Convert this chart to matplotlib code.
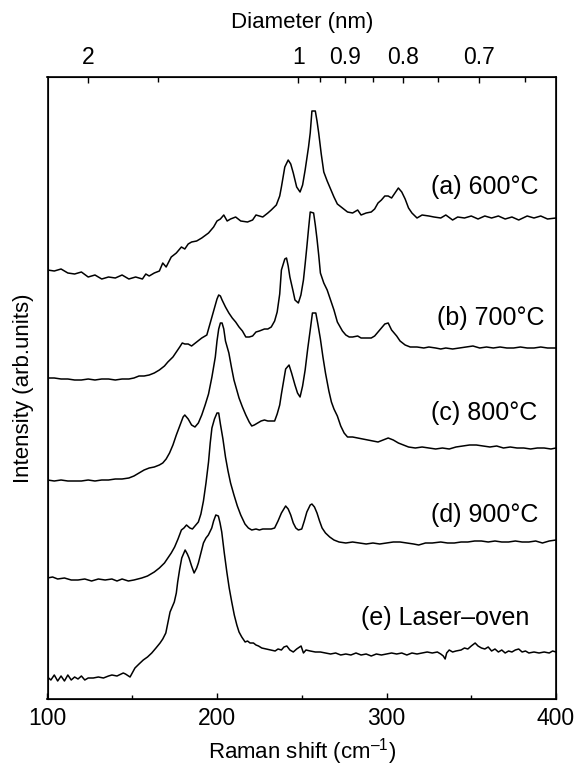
import matplotlib
matplotlib.use("Agg")
import matplotlib.pyplot as plt
import numpy as np

plt.rcParams['font.family'] = ['Liberation Sans', 'DejaVu Sans']
plt.rcParams['mathtext.fontset'] = 'custom'
plt.rcParams['mathtext.rm'] = 'Liberation Sans'
plt.rcParams['mathtext.it'] = 'Liberation Sans:italic'
plt.rcParams['mathtext.default'] = 'regular'

# ---- data (Raman shift, cm^-1 ; intensity in arbitrary offset units) ----
xa = [100,104,108,112,116,120,124,128,132,136,140,144,148,152,156,158,160,163,166,168,170,173,176,179,181,183,185,188,191,195,198,200,202,204,206,208,211,214,218,221,223,225,227,230,232,235,237,238,240,242,243.5,245,247,249,250.5,252,254,255,256,258,259,260,261.5,263,265,267,269,271,274,277,280,283,285,288,291,293,295,297,299,301,303,305,307,309,311,313,315,318,321,325,328,332,335,339,342,346,350,354,358,362,366,370,374,378,383,387,391,395,400]
ya = [429,428,430,426,425,427,422,424,420,422,421,424,420,422,420,425,423,426,428,436,432,442,446,452,450,455,457,458,461,466,472,478,480,484,478,480,482,478,477,479,484,483,482,486,489,494,503,512,532,539,535,526,512,507,514,529,552,566,588,588,578,566,545,527,518,510,502,495,491,487,486,489,484,486,487,490,496,499,503,503,501,506,511,507,500,491,486,481,484,483,482,481,484,479,482,481,483,480,483,481,483,480,482,479,483,481,483,480,481]

xb = [100,104,108,112,116,120,124,128,132,136,140,144,148,151,154,157,160,163,166,169,171,174,176,178,179.5,181,183,185,188,191,193,194,195,196,198,199,200,201,202,203,205,207,209,211,213,215,217,219,221,223,225,228,230,232,234,235.5,237,238,240,241,242,243,245,246,248,249.5,251,252,253,254,255,257,258,259,260,261,263,265,267,269,271,272,274,276,278,280,283,285,288,291,293,295,297,299,301,303,306,308,311,314,318,322,325,329,332,335,339,343,347,351,355,359,363,367,371,375,379,383,387,391,395,400]
yb = [321,321,320,320,319,319,320,319,320,320,319,320,320,321,323,323,324,326,329,333,337,342,347,352,356,355,355,353,357,361,363,364,370,376,388,394,400,404,403,399,392,386,381,377,372,368,362,362,363,367,368,370,370,372,378,387,405,429,440,441,433,422,407,399,396,404,419,435,452,470,487,486,474,460,444,426,416,409,399,389,377,374,368,364,362,362,363,361,361,361,363,367,371,375,376,369,363,358,354,352,352,351,352,351,350,351,350,351,352,353,351,352,351,352,351,351,352,351,351,352,351,351]

xc = [100,104,108,112,116,120,124,128,132,136,140,144,148,151,154,157,160,163,166,168,170,172,174,176,178,180,181,183,185,187,189,191,193,195,197,199,200,201,202,203,204,205,207,208.5,210,211.5,213,215,217,219,220.5,222,224,226,228,230,232,234,235.5,237,238,239.5,240.5,242.5,244,246,247.5,249,250.5,252,253.5,255,256.3,258.3,259.5,261,262.5,264,266,267.5,269,271,273,275,277,280,283,286,289,292,295,298,301,304,307,310,313,317,321,325,329,333,337,341,345,349,353,357,361,365,369,373,377,381,385,389,393,397,400]
yc = [219,218,219,218,218,218,219,218,219,219,220,220,221,223,226,229,231,232,234,236,240,246,254,264,273,282,284,280,274,272,276,284,294,305,322,342,358,370,376,376,370,358,346,332,319,310,301,292,284,277,273,274,276,278,279,278,278,278,285,294,305,320,330,334,326,314,306,302,313,329,350,369,386,386,375,360,342,326,308,297,290,283,273,266,262,262,261,260,259,258,257,259,261,259,256,254,252,251,252,251,250,251,250,252,253,254,254,253,252,253,251,252,251,251,250,251,251,250,251]

xd = [100,103,106,110,114,118,122,126,130,134,138,141,144,147.7,151,155.6,159,163,166,169,171,173,175,177,179,180.5,182,184,185.5,187,189,190.5,192,193.5,195,196,197,198.5,200,201,202,203.5,205,206.5,208,210,212,214,216.5,218.5,220.5,223,225,227,230,232,234,236,238,240.5,242,243.5,245,246.5,248,250,251.5,253,255,256,257.5,259,260.5,262,264,266.5,269,272,276,280,284,288,292,296,300,304,308,312,316,319,323,327,332,336,340,344,348,352,356,360,364,368,372,376,380,384,388,392,396,400]
yd = [121,122,120,121,119,119,120,118,120,119,120,118,120,118,119,121,123,127,131,136,141,146,152,160,169,171,174,171,170,173,177,185,198,216,237,256,271,280,286,286,275,260,242,228,216,204,193,184,175,171,169,170,169,170,170,170,171,178,186,193,190,184,176,171,169,170,178,187,194,195,192,186,178,171,166,162,159,157,156,157,156,155,156,155,156,157,157,156,155,154,156,156,157,156,156,157,157,158,158,157,158,157,157,158,157,157,158,156,158,159]

xe = [100,102,104,106,108,110,112,114,116,118,120,122,124,127,130,133,136,138,141,144.7,146,148.7,150,151.6,154,156.5,159,161.5,164,166.4,168,169.8,171,172.3,174.8,176,176.8,178,179.2,181.2,182.5,183.5,185,186.5,188,189,190.5,192,193.5,194.9,196.9,198,199.3,200.8,201.8,202.8,204.3,205.8,207.2,208.7,210.2,211.7,213,214.6,216.6,218,219.5,221.5,223,224.5,226.4,229,231.5,234.3,236,238,239.5,241.2,243,245,247,249.6,251,252.5,255,258,261,264,267,270,273,276,279,282,285,288,291,294,297,300,303,306,309,312,315,318,321,324,327,330,332,333.5,334.6,335.5,337,339,341,344,346,348,350,352.3,354,356,358,360,362,364,366,368,370,372,374,376,378,380,382,384,387,390,393,396,398,400]
ye = [22,19,24,18,23,18,24,19,22,20,23,19,21,21,22,21,23,24,23,26,25,22,26,31,35,39,42,46,51,56,60,66,76,87,97,106,117,130,141,149,145,141,133,126,131,136,146,156,161,164,171,178,184,183,176,167,146,127,111,97,84,74,67,62,57,58,56,56,54,53,51,50,49,48,50,49,52,53,49,47,50,53,46,49,48,47,47,46,45,46,44,45,44,46,44,45,43,45,44,45,46,45,46,44,46,45,46,47,46,47,45,43,40,46,49,47,48,49,51,50,53,56,53,51,50,52,48,50,47,49,46,48,47,49,50,47,48,46,47,46,47,46,48,47]

curves = [(xa, ya), (xb, yb), (xc, yc), (xd, yd), (xe, ye)]
labels = ['(a) 600°C', '(b) 700°C', '(c) 800°C', '(d) 900°C', '(e) Laser–oven']
label_x = [389.5, 393.5, 389, 389.5, 384]
label_y = [512, 381, 286, 184, 81]

diam_major = [2, 1, 0.9, 0.8, 0.7]
diam_major_labels = ['2', '1', '0.9', '0.8', '0.7']
diam_minor = [1.5, 0.95, 0.85, 0.75, 0.65]
A_const = 248.0  # omega = 248 / d

fig = plt.figure(figsize=(5.78, 7.71), dpi=100)
ax = fig.add_axes([47.5/578, 1-699/771, (556-47.5)/578, (699-77)/771])

for (x, y) in curves:
    ax.plot(x, y, color='black', lw=1.1)

for t, lx, ly in zip(labels, label_x, label_y):
    ax.text(lx, ly, t, ha='right', va='center', fontsize=18)

ax.set_xlim(100, 400)
ax.set_ylim(0, 622)
ax.set_yticks([])
ax.set_xticks([100, 200, 300, 400])
ax.set_xticks([150, 250, 350], minor=True)
ax.tick_params(axis='x', which='major', direction='in', length=4.5, width=1.0, labelsize=16.5, pad=6)
ax.tick_params(axis='x', which='minor', direction='in', length=3, width=1.0)
ax.set_xlabel('Raman shift (cm$^{\u2013 1}$)', fontsize=16, labelpad=4)
ax.set_ylabel('Intensity (arb.units)', fontsize=16, labelpad=10)
for s in ax.spines.values():
    s.set_linewidth(1.2)

ax2 = ax.twiny()
ax2.set_xlim(ax.get_xlim())
ax2.set_xticks([A_const / d for d in diam_major])
ax2.set_xticklabels(diam_major_labels)
ax2.set_xticks([A_const / d for d in diam_minor], minor=True)
ax2.tick_params(axis='x', which='major', direction='in', length=4.5, width=1.0, labelsize=16.5, pad=6)
ax2.tick_params(axis='x', which='minor', direction='in', length=3.5, width=1.0)
ax2.set_xlabel('Diameter (nm)', fontsize=16, labelpad=13)

fig.savefig('out.png', dpi=100)
